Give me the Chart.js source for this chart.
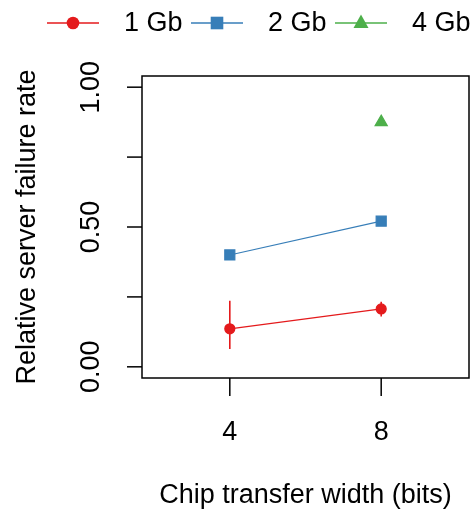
<!DOCTYPE html>
<html>
<head>
<meta charset="utf-8">
<script src="https://cdn.jsdelivr.net/npm/chart.js@4/dist/chart.umd.min.js"></script>
<style>
  html, body { margin: 0; padding: 0; background: #fff; }
  #wrap { width: 474px; height: 511px; }
</style>
</head>
<body>
<div id="wrap"><canvas id="fail-chart" width="474" height="511"></canvas></div>
<script>
// data
const xValues = [4, 8];
const xTicks = [4, 8];
const yTicks = [0, 0.25, 0.5, 0.75, 1];
const yTickLabels = ['0.00', '', '0.50', '', '1.00'];

const seriesNames = ['1 Gb', '2 Gb', '4 Gb'];
const gb1 = [0.136, 0.207];
const gb1Low = [0.064, 0.180];
const gb1High = [0.236, 0.233];
const gb2 = [0.400, 0.521];
const gb2Low = [0.385, 0.515];
const gb2High = [0.415, 0.527];
const gb4 = [null, 0.875];

const colors = ['#E41A1C', '#377EB8', '#4DAF4A'];
const FONT = '"Liberation Sans", Arial, sans-serif';

const toPoints = (ys) => xValues.map((x, i) => ({x: x, y: ys[i]})).filter(p => p.y !== null);

function marker(ctx, style, x, y, color) {
  ctx.save();
  ctx.fillStyle = color;
  ctx.beginPath();
  if (style === 'circle') {
    ctx.arc(x, y, 6.3, 0, Math.PI * 2);
  } else if (style === 'rect') {
    ctx.rect(x - 6.3, y - 6.3, 12.6, 12.6);
  } else {
    ctx.moveTo(x, y - 8.5);
    ctx.lineTo(x + 7.5, y + 5);
    ctx.lineTo(x - 7.5, y + 5);
    ctx.closePath();
  }
  ctx.fill();
  ctx.restore();
}

// box, ticks, labels, error bars and legend, R base-graphics look
const rAxes = {
  id: 'rAxes',
  beforeDatasetsDraw(chart) {
    const {ctx, scales: {x, y}} = chart;
    const errs = [[gb1Low, gb1High], [gb2Low, gb2High]];
    ctx.save();
    ctx.lineWidth = 1.6;
    errs.forEach((e, k) => {
      ctx.strokeStyle = colors[k];
      xValues.forEach((xv, i) => {
        const px = x.getPixelForValue(xv);
        ctx.beginPath();
        ctx.moveTo(px, y.getPixelForValue(e[0][i]));
        ctx.lineTo(px, y.getPixelForValue(e[1][i]));
        ctx.stroke();
      });
    });
    ctx.restore();
  },
  afterDraw(chart) {
    const {ctx, chartArea: a, scales: {x, y}} = chart;
    ctx.save();
    ctx.strokeStyle = '#000';
    ctx.lineWidth = 1.5;
    ctx.strokeRect(a.left, a.top, a.right - a.left, a.bottom - a.top);

    ctx.fillStyle = '#000';
    ctx.font = '27px ' + FONT;
    ctx.textAlign = 'center';
    ctx.textBaseline = 'middle';

    // x axis
    xTicks.forEach(v => {
      const px = x.getPixelForValue(v);
      ctx.beginPath();
      ctx.moveTo(px, a.bottom);
      ctx.lineTo(px, a.bottom + 18);
      ctx.stroke();
      ctx.fillText(String(v), px, 433);
    });
    ctx.fillText('Chip transfer width (bits)', (a.left + a.right) / 2, 496);

    // y axis
    yTicks.forEach((v, i) => {
      const py = y.getPixelForValue(v);
      ctx.beginPath();
      ctx.moveTo(a.left, py);
      ctx.lineTo(a.left - 15, py);
      ctx.stroke();
      if (yTickLabels[i]) {
        ctx.save();
        ctx.translate(92, py);
        ctx.rotate(-Math.PI / 2);
        ctx.fillText(yTickLabels[i], 0, 0);
        ctx.restore();
      }
    });
    ctx.save();
    ctx.translate(28, (a.top + a.bottom) / 2);
    ctx.rotate(-Math.PI / 2);
    ctx.fillText('Relative server failure rate', 0, 0);
    ctx.restore();

    // legend
    ctx.textAlign = 'left';
    const styles = ['circle', 'rect', 'triangle'];
    seriesNames.forEach((name, i) => {
      const x0 = 47 + i * 144;
      ctx.strokeStyle = colors[i];
      ctx.lineWidth = 1.5;
      ctx.beginPath();
      ctx.moveTo(x0, 23);
      ctx.lineTo(x0 + 52, 23);
      ctx.stroke();
      marker(ctx, styles[i], x0 + 26, 23, colors[i]);
      ctx.fillStyle = '#000';
      ctx.fillText(name, x0 + 77, 24);
    });
    ctx.restore();
  }
};

const setupChart = () => {
  const ctx = document.getElementById('fail-chart').getContext('2d');
  new Chart(ctx, {
    type: 'line',
    data: {
      datasets: [
        {label: seriesNames[0], data: toPoints(gb1), borderColor: colors[0], backgroundColor: colors[0], pointStyle: 'circle', pointRadius: 5, borderWidth: 1.2},
        {label: seriesNames[1], data: toPoints(gb2), borderColor: colors[1], backgroundColor: colors[1], pointStyle: 'rect', pointRadius: 7.1, borderWidth: 1.2},
        {label: seriesNames[2], data: toPoints(gb4), borderColor: colors[2], backgroundColor: colors[2], pointStyle: 'triangle', pointRadius: 7, borderWidth: 1.2}
      ]
    },
    options: {
      responsive: false,
      animation: false,
      layout: { autoPadding: false, padding: {left: 142, right: 5, top: 76, bottom: 133} },
      scales: {
        x: { type: 'linear', min: 1.68, max: 10.32, display: false },
        y: { type: 'linear', min: -0.04, max: 1.04, display: false }
      },
      elements: { point: { borderWidth: 0 } },
      plugins: { legend: {display: false}, tooltip: {enabled: false} }
    },
    plugins: [rAxes]
  });
};
document.addEventListener('DOMContentLoaded', () => {
  setupChart();
});
</script>
</body>
</html>
